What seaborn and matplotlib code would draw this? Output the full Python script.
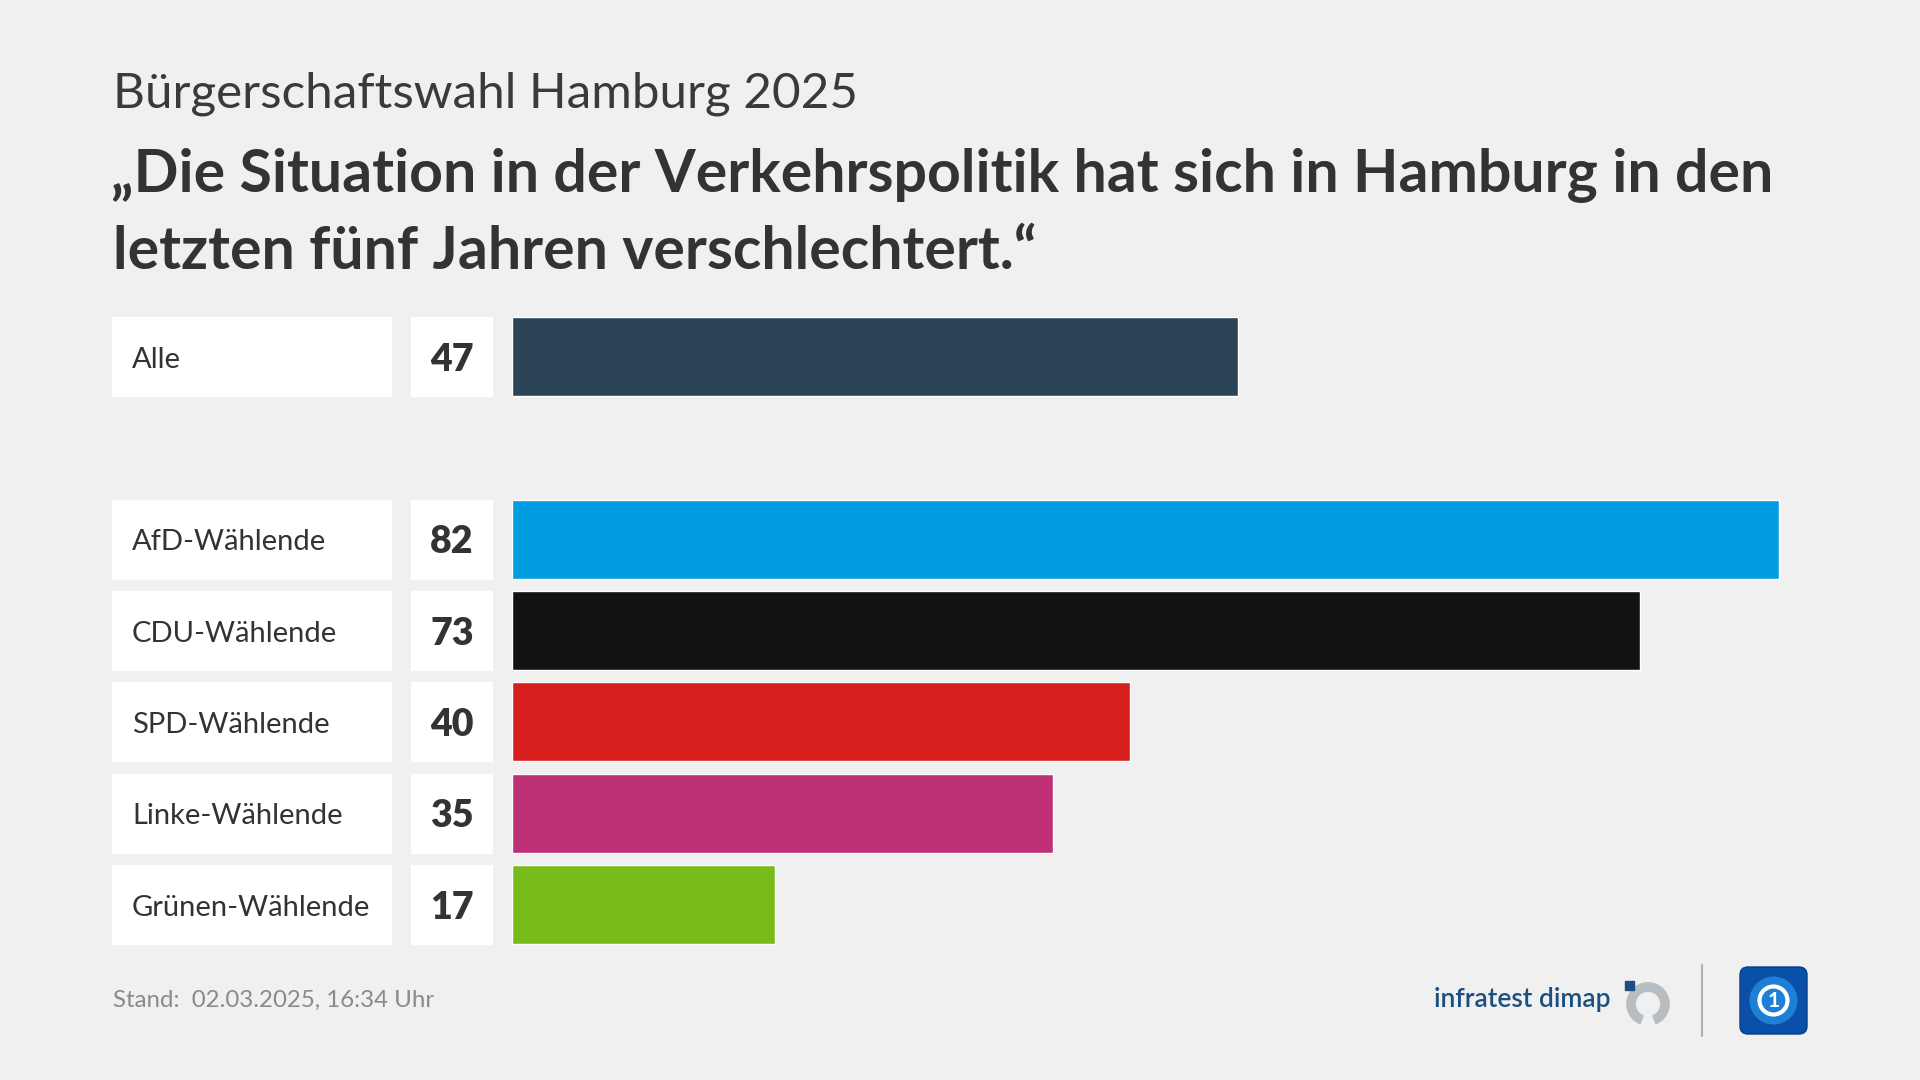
#recreating the infratest dimap bar chart for the Hamburg 2025 election
#three axes side by side: label boxes, value boxes, bars

import pandas as pd
import matplotlib.pyplot as plt
import seaborn as sns
from matplotlib.patches import FancyBboxPatch, Rectangle, Arc, Circle

#data
labels = ["Alle", "AfD-Wählende", "CDU-Wählende", "SPD-Wählende", "Linke-Wählende", "Grünen-Wählende"]
values = [47, 82, 73, 40, 35, 17]
positions = [0, 2, 3, 4, 5, 6]   # empty row between "Alle" and the parties
colors = ["#2b4556", "#009ee0", "#121212", "#d71f1d", "#be3075", "#78bc1b"]

subtitle = "Bürgerschaftswahl Hamburg 2025"
title_1 = "„Die Situation in der Verkehrspolitik hat sich in Hamburg in den"
title_2 = "letzten fünf Jahren verschlechtert.“"
footer = "Stand:  02.03.2025, 16:34 Uhr"

df = pd.DataFrame({"label": labels, "value": values, "pos": positions})
df["box"] = 1

sns.set_theme(style="white")
plt.rcParams["font.family"] = ["Lato", "DejaVu Sans"]

BG = "#f0f0f0"
TXT = "#333333"
W, H = 1920, 1080

fig = plt.figure(figsize=(19.2, 10.8), dpi=100, facecolor=BG)

def px_axes(x0, x1):
    # axes in pixel columns, all sharing the same row band
    top, bottom = 310.8, 950.2
    return fig.add_axes([x0 / W, 1 - bottom / H, (x1 - x0) / W, (bottom - top) / H])

ylim = (6.5, -0.5)
bar_h = 0.865
text_nudge = 0.035   # Lato sits a touch high with va=center

#label boxes
ax_lab = px_axes(112, 392)
sns.barplot(data=df, x="box", y="pos", orient="h", native_scale=True,
            color="white", width=bar_h, saturation=1, ax=ax_lab)
for _, r in df.iterrows():
    ax_lab.text(0.071, r["pos"] + text_nudge, r["label"], va="center", ha="left",
                fontsize=21, color=TXT)

#value boxes
ax_val = px_axes(411, 493)
sns.barplot(data=df, x="box", y="pos", orient="h", native_scale=True,
            color="white", width=bar_h, saturation=1, ax=ax_val)
for _, r in df.iterrows():
    ax_val.text(0.5, r["pos"] + text_nudge, str(r["value"]), va="center", ha="center",
                fontsize=27, fontweight="heavy", color=TXT)

#the actual bars
px_per_unit = 1267 / 82
ax_bar = px_axes(512, 1800)
sns.barplot(data=df, x="value", y="pos", orient="h", native_scale=True,
            hue="label", palette=dict(zip(labels, colors)), legend=False,
            width=bar_h, saturation=1, ax=ax_bar)
ax_bar.set_xlim(0, 1288 / px_per_unit)

for ax in (ax_lab, ax_val, ax_bar):
    ax.set_ylim(*ylim)
    ax.set_facecolor("none")
    ax.axis("off")
ax_lab.set_xlim(0, 1)
ax_val.set_xlim(0, 1)

#header
fig.text(113 / W, 1 - 107 / H, subtitle, fontsize=35.6, fontweight="normal",
         color="#3a3a3a", va="baseline")
fig.text(111 / W, 1 - 192 / H, title_1, fontsize=42.5, fontweight="bold",
         color=TXT, va="baseline")
fig.text(113 / W, 1 - 269 / H, title_2, fontsize=42.5, fontweight="bold",
         color=TXT, va="baseline")

#footer
fig.text(113 / W, 1 - 1000 / H, footer, fontsize=17.3, color="#8a8a8a", va="center")
fig.text(1610 / W, 1 - 1000 / H, "infratest dimap", fontsize=19, color="#1b4f80",
         va="center", ha="right", fontweight="semibold")

#little logos drawn in a pixel-space overlay
ov = fig.add_axes([0, 0, 1, 1])
ov.set_xlim(0, W)
ov.set_ylim(H, 0)
ov.axis("off")
ov.add_patch(Arc((1648, 1004), 34, 34, theta1=-250, theta2=70, lw=7, color="#b8bdc2"))
ov.add_patch(Rectangle((1625, 981), 9, 9, color="#1b4f80"))
ov.plot([1702, 1702], [965, 1036], color="#b0b0b0", lw=1.5)
ov.add_patch(FancyBboxPatch((1740, 967), 67, 67, boxstyle="round,pad=0,rounding_size=8",
                            fc="#0a4fa8", ec="#063f8a", lw=1))
ov.add_patch(Circle((1773.5, 1000.5), 24, fc="#1e7fd6", ec="none"))
ov.add_patch(Circle((1773.5, 1000.5), 14, fc="none", ec="white", lw=3))
ov.text(1773.5, 1001, "1", color="white", fontsize=15, fontweight="bold",
        ha="center", va="center")

plt.savefig("out.png", dpi=100, facecolor=BG)
plt.close()
